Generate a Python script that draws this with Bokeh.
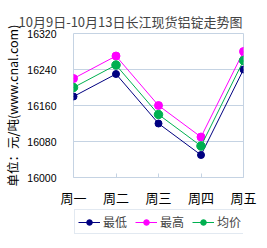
from bokeh.plotting import figure
from bokeh.layouts import column
from bokeh.models import FixedTicker, Legend, LegendItem, Range1d
from bokeh.embed import file_html
from bokeh.resources import INLINE

days = ["周一", "周二", "周三", "周四", "周五"]
low = [16180, 16230, 16120, 16050, 16240]
high = [16220, 16270, 16160, 16090, 16280]
avg = [16200, 16250, 16140, 16070, 16260]
y_ticks = [16000, 16080, 16160, 16240, 16320]
series_names = ["最低", "最高", "均价"]

x = list(range(len(days)))
GRID = "#c5d3e3"
FONT = "Noto Sans CJK SC"

p = figure(width=267, height=209, min_border_left=65, min_border_right=24,
           min_border_top=33, min_border_bottom=30,
           output_backend="svg", toolbar_location=None,
           x_range=Range1d(0, len(days) - 1), y_range=Range1d(y_ticks[0], y_ticks[-1]),
           title="10月9日-10月13日长江现货铝锭走势图")
p.title.text_font = FONT
p.title.text_font_size = "13px"
p.title.text_font_style = "normal"
p.title.align = "left"
p.title.offset = -55
p.title.standoff = 6

p.outline_line_color = GRID
p.outline_line_alpha = 1
p.background_fill_color = "white"
p.border_fill_color = "white"
p.xgrid.grid_line_color = None
p.ygrid.grid_line_color = GRID
p.ygrid.ticker = FixedTicker(ticks=y_ticks)

p.yaxis.ticker = FixedTicker(ticks=y_ticks)
p.yaxis.axis_line_color = None
p.yaxis.major_tick_line_color = None
p.yaxis.minor_tick_line_color = None
p.yaxis.major_label_text_font = "Liberation Sans"
p.yaxis.major_label_text_font_size = "10.5px"
p.yaxis.major_label_text_color = "black"
p.yaxis.major_label_standoff = 11
p.yaxis.axis_label = "单位：元/吨(www.cnal.com)"
p.yaxis.axis_label_text_font = FONT
p.yaxis.axis_label_text_font_size = "12.5px"
p.yaxis.axis_label_text_font_style = "normal"
p.yaxis.axis_label_text_color = "black"
p.yaxis.axis_label_standoff = 2

p.xaxis.ticker = FixedTicker(ticks=x)
p.xaxis.major_label_overrides = {i: d for i, d in zip(x, days)}
p.xaxis.axis_line_color = None
p.xaxis.major_tick_in = 4
p.xaxis.major_tick_out = 0
p.xaxis.major_tick_line_color = GRID
p.xaxis.minor_tick_line_color = None
p.xaxis.major_label_text_font = FONT
p.xaxis.major_label_text_font_size = "13px"
p.xaxis.major_label_text_color = "black"
p.xaxis.major_label_standoff = 10

colors = ["#000080", "#ff00ff", "#00b050"]
sizes = [7, 8, 8.5]

# legend strip below the chart (its series lie outside its view)
q = figure(width=267, height=39, min_border=0, output_backend="svg", toolbar_location=None,
           x_axis_location=None, y_axis_location=None,
           x_range=Range1d(0, 1), y_range=Range1d(0, 1))
q.outline_line_color = None
q.xgrid.grid_line_color = None
q.ygrid.grid_line_color = None
q.background_fill_color = "white"
q.border_fill_color = "white"

items = []
for name, vals, c, s in zip(series_names, [low, high, avg], colors, sizes):
    p.line(x, vals, line_color=c, line_width=1)
    p.scatter(x, vals, size=s, fill_color=c, line_color=c)
    ln = q.line(x, vals, line_color=c, line_width=1)
    sc = q.scatter(x, vals, size=s, fill_color=c, line_color=c)
    items.append(LegendItem(label=name, renderers=[ln, sc]))

legend = Legend(items=items, orientation="horizontal", location=(1, 14),
                border_line_color=GRID, background_fill_color="white", background_fill_alpha=1,
                label_text_font=FONT, label_text_font_size="12px", label_standoff=3,
                glyph_width=22, glyph_height=14, spacing=8, padding=3, margin=0,
                label_height=14)
q.add_layout(legend, "center")

layout = column(p, q, spacing=0)
open("out.html", "w").write(file_html(layout, INLINE))
